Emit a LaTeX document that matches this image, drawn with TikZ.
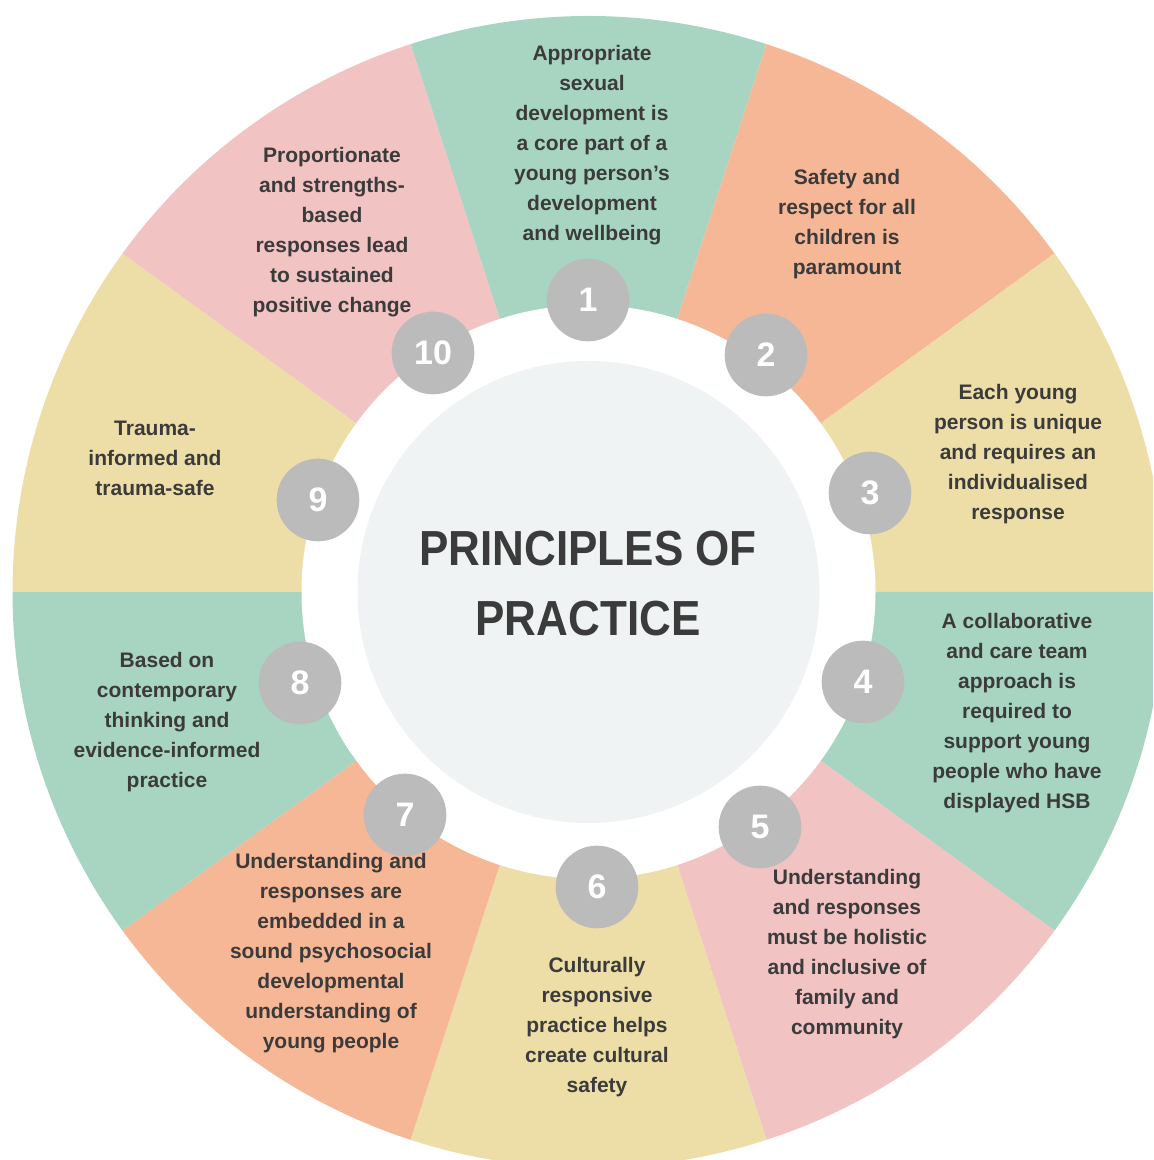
\documentclass[tikz,border=0pt]{standalone}
\usepackage{fontspec}
\setmainfont{Liberation Sans}

\definecolor{wheelgreen}{HTML}{A8D5C1}
\definecolor{wheelorange}{HTML}{F6B796}
\definecolor{wheelyellow}{HTML}{EDDEA8}
\definecolor{wheelpink}{HTML}{F1C3C3}
\definecolor{hubgrey}{HTML}{EFF3F4}
\definecolor{badgegrey}{HTML}{BBBBBB}
\definecolor{inkgrey}{HTML}{3B3B3B}

\tikzset{
x=0.75pt, y=0.75pt, % one unit is one pixel of the page
principle/.style={align=center, text=inkgrey, inner sep=0pt,
  font=\fontsize{15.75}{22.5}\selectfont\bfseries}, % text in each wedge
badge/.style={circle, fill=badgegrey, minimum size=62, inner sep=0pt,
  text=white, font=\fontsize{25.5}{26}\selectfont\bfseries}, % numbered disc
headline/.style={align=center, text=inkgrey, inner sep=0pt, yscale=1.12,
  font=\fontsize{33}{46.5}\selectfont\bfseries}, % title in the hub
}

\begin{document}
\begin{tikzpicture}
        \useasboundingbox (0,0) rectangle (1153,1160);
        \clip (0,0) rectangle (1153,1160);
        \coordinate (hub) at (588.5,568);

        % ten wedges, 36 degrees each
        \fill[wheelgreen] (hub) -- ++(72:576) arc[start angle=72, end angle=108, radius=576] -- cycle;
        \fill[wheelorange] (hub) -- ++(36:576) arc[start angle=36, end angle=72, radius=576] -- cycle;
        \fill[wheelyellow] (hub) -- ++(0:576) arc[start angle=0, end angle=36, radius=576] -- cycle;
        \fill[wheelgreen] (hub) -- ++(-36:576) arc[start angle=-36, end angle=0, radius=576] -- cycle;
        \fill[wheelpink] (hub) -- ++(-72:576) arc[start angle=-72, end angle=-36, radius=576] -- cycle;
        \fill[wheelyellow] (hub) -- ++(-108:576) arc[start angle=-108, end angle=-72, radius=576] -- cycle;
        \fill[wheelorange] (hub) -- ++(-144:576) arc[start angle=-144, end angle=-108, radius=576] -- cycle;
        \fill[wheelgreen] (hub) -- ++(-180:576) arc[start angle=-180, end angle=-144, radius=576] -- cycle;
        \fill[wheelyellow] (hub) -- ++(144:576) arc[start angle=144, end angle=180, radius=576] -- cycle;
        \fill[wheelpink] (hub) -- ++(108:576) arc[start angle=108, end angle=144, radius=576] -- cycle;

        % white ring and the hub
        \fill[white] (hub) circle[radius=287];
        \fill[hubgrey] (hub) circle[radius=231];
        \node[headline] (title) at (588,576.5) {PRINCIPLES OF\\PRACTICE};

        % wedge texts
        \node[principle] (p1) at (592,1015) {Appropriate\\sexual\\development is\\a core part of a\\young person’s\\development\\and wellbeing};
        \node[principle] (p2) at (847,936) {Safety and\\respect for all\\children is\\paramount};
        \node[principle] (p3) at (1018,706) {Each young\\person is unique\\and requires an\\individualised\\response};
        \node[principle] (p4) at (1017,447) {A collaborative\\and care team\\approach is\\required to\\support young\\people who have\\displayed HSB};
        \node[principle] (p5) at (847,206) {Understanding\\and responses\\must be holistic\\and inclusive of\\family and\\community};
        \node[principle] (p6) at (597,133) {Culturally\\responsive\\practice helps\\create cultural\\safety};
        \node[principle] (p7) at (331,207) {Understanding and\\responses are\\embedded in a\\sound psychosocial\\developmental\\understanding of\\young people};
        \node[principle] (p8) at (167,438) {Based on\\contemporary\\thinking and\\evidence-informed\\practice};
        \node[principle] (p9) at (155,702) {Trauma-\\informed and\\trauma-safe};
        \node[principle] (p10) at (332,928) {Proportionate\\and strengths-\\based\\responses lead\\to sustained\\positive change};

        % numbered discs on the ring
        \node[badge] (n1) at (588,860) {1};
        \node[badge] (n2) at (766,805) {2};
        \node[badge] (n3) at (870,667) {3};
        \node[badge] (n4) at (863,478) {4};
        \node[badge] (n5) at (760,333) {5};
        \node[badge] (n6) at (597,273) {6};
        \node[badge] (n7) at (405,345) {7};
        \node[badge] (n8) at (300,477) {8};
        \node[badge] (n9) at (318,660) {9};
        \node[badge] (n10) at (433,807) {10};
      \end{tikzpicture}
\end{document}
